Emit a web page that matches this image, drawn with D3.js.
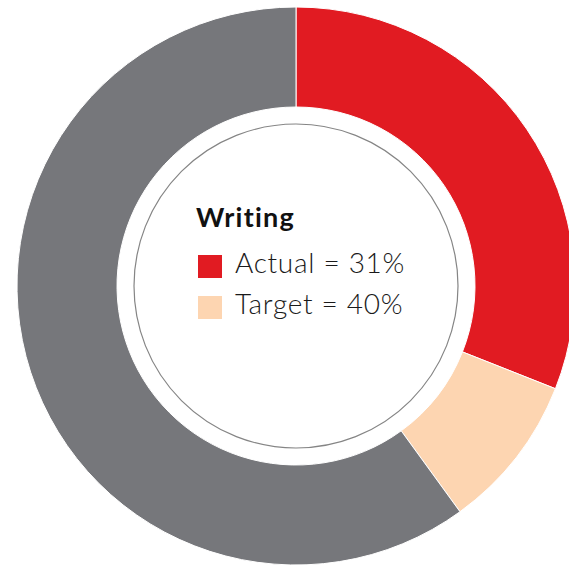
<!DOCTYPE html>
<html>
<head>
<meta charset="utf-8">
<script src="https://cdn.jsdelivr.net/npm/d3@7"></script>
<style>
  html, body { margin: 0; padding: 0; background: #fff; }
  svg { display: block; }
</style>
</head>
<body>
<svg id="chart" width="569" height="567"></svg>
<script>
// Writing progress: actual vs target, in percent
const title = "Writing";
const seriesNames = ["Actual", "Target"];
const seriesValues = [31, 40];
const total = 100;
const colors = ["#e11b22", "#fdd5b1", "#76777b"];

// Ring segments: actual, gap to target, remainder
const segments = [
  { key: "actual", value: seriesValues[0] },
  { key: "toTarget", value: seriesValues[1] - seriesValues[0] },
  { key: "rest", value: total - seriesValues[1] }
];

const svg = d3.select("#chart");
const cx = 296, cy = 286;
const outerR = 279, innerR = 179, discR = 162;

const g = svg.append("g").attr("transform", `translate(${cx},${cy})`);

const pie = d3.pie().sort(null).value(d => d.value);
const arc = d3.arc().innerRadius(innerR).outerRadius(outerR);

g.selectAll("path.seg")
  .data(pie(segments))
  .join("path")
  .attr("class", "seg")
  .attr("d", arc)
  .attr("fill", (d, i) => colors[i])
  .attr("stroke", "#fff")
  .attr("stroke-width", 1);

// Inner outlined disc
g.append("circle")
  .attr("r", discR)
  .attr("fill", "#fff")
  .attr("stroke", "#858585")
  .attr("stroke-width", 1.2);

// Title and legend
const lx = 196;
svg.append("text")
  .attr("x", lx)
  .attr("y", 227)
  .attr("font-family", "Lato, 'Noto Sans', sans-serif")
  .attr("font-weight", 700)
  .attr("font-size", 27)
  .attr("letter-spacing", 1.2)
  .attr("fill", "#111")
  .text(title);

const legend = svg.selectAll("g.legend")
  .data(seriesNames)
  .join("g")
  .attr("class", "legend")
  .attr("transform", (d, i) => `translate(${lx + 2},${255 + i * 41})`);

legend.append("rect")
  .attr("width", 24)
  .attr("height", 23)
  .attr("fill", (d, i) => colors[i]);

legend.append("text")
  .attr("x", 37)
  .attr("y", 18)
  .attr("font-family", "Lato, 'Noto Sans', sans-serif")
  .attr("font-weight", 300)
  .attr("font-size", 28)
  .attr("letter-spacing", 0.7)
  .attr("fill", "#1a1a1a")
  .text((d, i) => `${d} = ${seriesValues[i]}%`);
</script>
</body>
</html>
